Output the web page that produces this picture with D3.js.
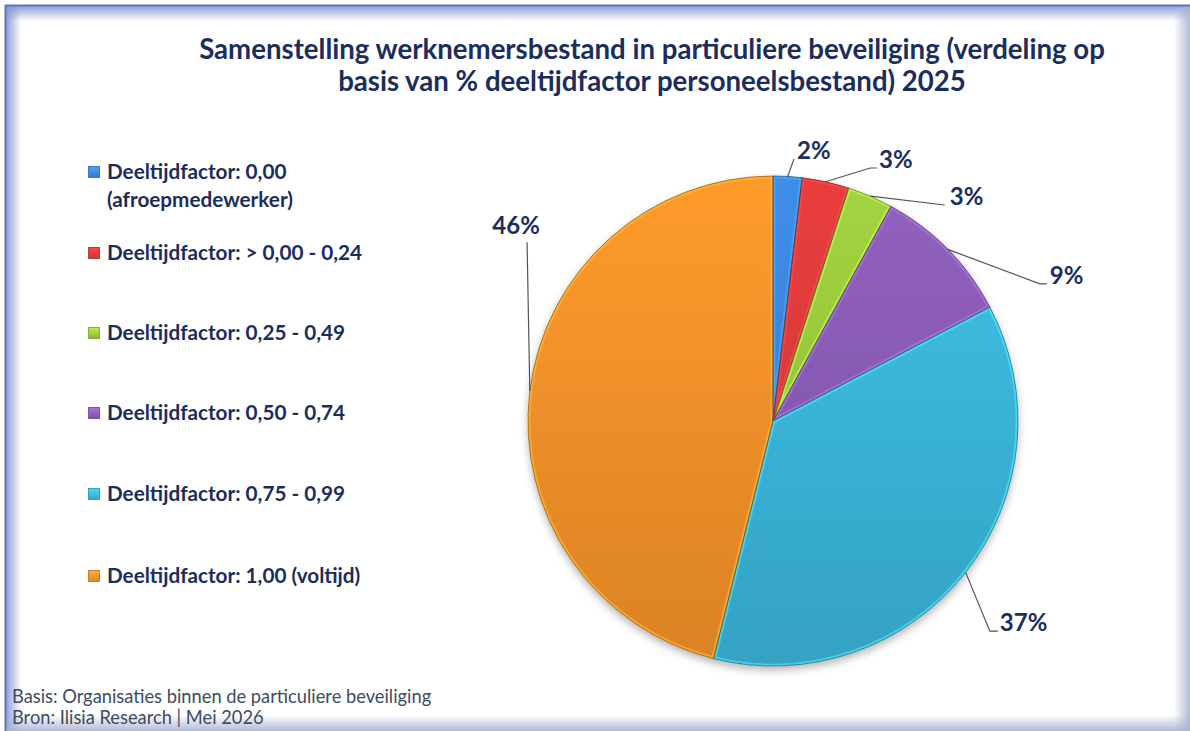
<!DOCTYPE html>
<html>
<head>
<meta charset="utf-8">
<script src="https://cdn.jsdelivr.net/npm/d3@7"></script>
<style>
  html, body { margin: 0; padding: 0; background: #fff; }
  svg { display: block; font-family: Lato, "Open Sans", sans-serif; }
</style>
</head>
<body>
<div id="chart"></div>
<script>
// chart data
const categories = [
    "Deeltijdfactor: 0,00 (afroepmedewerker)",
    "Deeltijdfactor: > 0,00 - 0,24",
    "Deeltijdfactor: 0,25 - 0,49",
    "Deeltijdfactor: 0,50 - 0,74",
    "Deeltijdfactor: 0,75 - 0,99",
    "Deeltijdfactor: 1,00 (voltijd)"
];
const legendLines = [
    ["Deeltijdfactor: 0,00", "(afroepmedewerker)"],
    ["Deeltijdfactor: > 0,00 - 0,24"],
    ["Deeltijdfactor: 0,25 - 0,49"],
    ["Deeltijdfactor: 0,50 - 0,74"],
    ["Deeltijdfactor: 0,75 - 0,99"],
    ["Deeltijdfactor: 1,00 (voltijd)"]
];
const values = [1.9, 3.1, 3.0, 9.3, 36.6, 46.1];
const valueLabels = ["2%", "3%", "3%", "9%", "37%", "46%"];
const colors = ["#3b87de", "#de3b3b", "#9bca3d", "#8a5cb6", "#3bb8dc", "#f7932a"];

const titleLines = [
    "Samenstelling werknemersbestand in particuliere beveiliging (verdeling op",
    "basis van % deeltijdfactor personeelsbestand) 2025"
];
const footerLines = [
    "Basis: Organisaties binnen de particuliere beveiliging",
    "Bron: Ilisia Research | Mei 2026"
];

// label placement (polar position of the leader end, relative to the pie)
const labelLayout = [
    {angle: 4.6, dist: 263, tick: 0, dx: 3, dy: 0, anchor: "start"},
    {angle: 21.0, dist: 271, tick: 7, dx: 9, dy: 0, anchor: "start"},
    {angle: 38.5, dist: 276, tick: 0, dx: 5, dy: 0, anchor: "start"},
    {angle: 62.8, dist: 300, tick: 7, dx: 10, dy: 0, anchor: "start"},
    {angle: 134.1, dist: 302, tick: 8, dx: 10, dy: 0, anchor: "start"},
    {angle: 306.0, dist: 304, tick: 0, dx: -11, dy: -8, anchor: "middle"}
];

const W = 1190, H = 731;
const navy = "#1b2d5c";

const svg = d3.select("#chart").append("svg")
    .attr("width", W)
    .attr("height", H);

const defs = svg.append("defs");

// frame with inner shadow
function edgeGrad(id, x1, y1, x2, y2, c) {
    let g = defs.append("linearGradient").attr("id", id)
        .attr("x1", x1).attr("y1", y1).attr("x2", x2).attr("y2", y2);
    g.append("stop").attr("offset", "0%").attr("stop-color", c).attr("stop-opacity", 0.9);
    g.append("stop").attr("offset", "100%").attr("stop-color", c).attr("stop-opacity", 0);
}
edgeGrad("shL", 0, 0, 1, 0, "#8496cc");
edgeGrad("shT", 0, 0, 0, 1, "#8496cc");
edgeGrad("shR", 1, 0, 0, 0, "#a9b2d2");
edgeGrad("shB", 0, 1, 0, 0, "#a9b2d2");

svg.append("rect").attr("width", W).attr("height", H).attr("fill", "#fff");
svg.append("rect").attr("x", 6).attr("y", 6).attr("width", 15).attr("height", H).attr("fill", "url(#shL)");
svg.append("rect").attr("x", 6).attr("y", 6).attr("width", W).attr("height", 15).attr("fill", "url(#shT)");
svg.append("rect").attr("x", W - 16).attr("y", 6).attr("width", 16).attr("height", H).attr("fill", "url(#shR)");
svg.append("rect").attr("x", 6).attr("y", H - 16).attr("width", W).attr("height", 16).attr("fill", "url(#shB)");
svg.append("path")
    .attr("d", `M5.5,${H} V5.5 H${W}`)
    .attr("fill", "none")
    .attr("stroke", "#5578bd")
    .attr("stroke-width", 2);

// title
svg.append("g").selectAll("text")
    .data(titleLines)
    .join("text")
    .attr("x", 652)
    .attr("y", (d, i) => 59 + i * 32)
    .attr("text-anchor", "middle")
    .attr("font-size", 27.6)
    .attr("font-weight", 700)
    .attr("fill", navy)
    .text(d => d);

// pie
const cx = 773, cy = 421, r = 245;

const pie = d3.pie().sort(null).value(d => d)(values);
const arc = d3.arc().innerRadius(0).outerRadius(r);

colors.forEach((c, i) => {
    let g = defs.append("linearGradient").attr("id", "sl" + i)
        .attr("gradientUnits", "userSpaceOnUse")
        .attr("x1", 0).attr("y1", -r).attr("x2", 0).attr("y2", r);
    g.append("stop").attr("offset", "0%").attr("stop-color", d3.color(c).brighter(0.15));
    g.append("stop").attr("offset", "100%").attr("stop-color", d3.color(c).darker(0.35));

    let lg = defs.append("linearGradient").attr("id", "lg" + i)
        .attr("x1", 0).attr("y1", 0).attr("x2", 0).attr("y2", 1);
    lg.append("stop").attr("offset", "0%").attr("stop-color", d3.color(c).brighter(0.5));
    lg.append("stop").attr("offset", "100%").attr("stop-color", d3.color(c).darker(0.3));

    defs.append("clipPath").attr("id", "cp" + i)
        .append("path").attr("d", arc(pie[i]));
});

const shadow = defs.append("filter").attr("id", "pieShadow")
    .attr("x", "-10%").attr("y", "-10%").attr("width", "120%").attr("height", "125%");
shadow.append("feDropShadow")
    .attr("dx", 0).attr("dy", 4).attr("stdDeviation", 4)
    .attr("flood-color", "#000").attr("flood-opacity", 0.3);

const pieG = svg.append("g").attr("transform", `translate(${cx},${cy})`);

pieG.append("g").attr("filter", "url(#pieShadow)")
    .selectAll("path")
    .data(pie)
    .join("path")
    .attr("d", arc)
    .attr("fill", (d, i) => `url(#sl${i})`);

// bevel highlight along the slice edges
pieG.append("g").selectAll("path")
    .data(pie)
    .join("path")
    .attr("d", arc)
    .attr("fill", "none")
    .attr("clip-path", (d, i) => `url(#cp${i})`)
    .attr("stroke", (d, i) => d3.color(colors[i]).brighter(0.7))
    .attr("stroke-opacity", 0.6)
    .attr("stroke-width", 5);

pieG.append("g").selectAll("path")
    .data(pie)
    .join("path")
    .attr("d", arc)
    .attr("fill", "none")
    .attr("stroke", (d, i) => d3.color(colors[i]).darker(1.4))
    .attr("stroke-opacity", 0.75)
    .attr("stroke-width", 1);

// data labels with leader lines
const labelG = pieG.append("g");
pie.forEach((d, i) => {
    let L = labelLayout[i];
    let mid = (d.startAngle + d.endAngle) / 2;
    let sx = Math.sin(mid) * r, sy = -Math.cos(mid) * r;
    let a = L.angle * Math.PI / 180;
    let ex = Math.sin(a) * L.dist, ey = -Math.cos(a) * L.dist;

    labelG.append("polyline")
        .attr("points", [[sx, sy], [ex, ey], [ex + L.tick, ey]].map(p => p.join(",")).join(" "))
        .attr("fill", "none")
        .attr("stroke", "#555")
        .attr("stroke-width", 1.2);

    labelG.append("text")
        .attr("x", ex + L.dx)
        .attr("y", ey + L.dy)
        .attr("text-anchor", L.anchor)
        .attr("font-size", 24)
        .attr("font-weight", 700)
        .attr("fill", navy)
        .text(valueLabels[i]);
});

// legend
const legendRows = [172, 253, 333, 413, 494, 576];
const legend = svg.append("g").selectAll("g")
    .data(categories)
    .join("g")
    .attr("transform", (d, i) => `translate(88, ${legendRows[i]})`);

legend.append("rect")
    .attr("x", 0.5).attr("y", -5.5)
    .attr("width", 11).attr("height", 11)
    .attr("fill", (d, i) => `url(#lg${i})`)
    .attr("stroke", (d, i) => d3.color(colors[i]).darker(0.8))
    .attr("stroke-width", 0.8);

legend.append("text")
    .attr("x", 19)
    .attr("font-size", 20.7)
    .attr("font-weight", 700)
    .attr("fill", navy)
    .selectAll("tspan")
    .data((d, i) => legendLines[i])
    .join("tspan")
    .attr("x", 19)
    .attr("y", (d, j) => 7 + j * 28)
    .text(d => d);

// footer
svg.append("g").selectAll("text")
    .data(footerLines)
    .join("text")
    .attr("x", 12)
    .attr("y", (d, i) => 703 + i * 21)
    .attr("font-size", 18.3)
    .attr("fill", "#3d4b63")
    .text(d => d);
</script>
</body>
</html>
